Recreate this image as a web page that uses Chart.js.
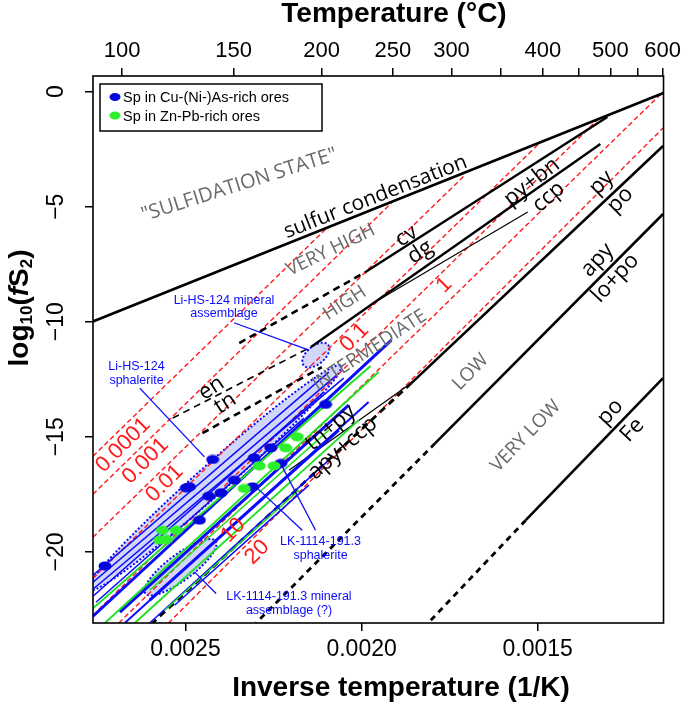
<!DOCTYPE html>
<html>
<head>
<meta charset="utf-8">
<script src="https://cdn.jsdelivr.net/npm/chart.js@4.4.1/dist/chart.umd.min.js"></script>
<style>
html, body { margin: 0; padding: 0; background: #fff; }
#c { display: block; }
</style>
</head>
<body>
<canvas id="c" width="685" height="702"></canvas>
<script>
// axis ranges: x = inverse temperature (1/K, reversed), y = log10(fS2)
const xMin = 0.0011427, xMax = 0.0027627;
const yMin = -23.09, yMax = 0.68;
const invTicks = [0.0025, 0.0020, 0.0015];
const yTicks = [0, -5, -10, -15, -20];
const tempTicks = [100, 150, 200, 250, 300, 350, 400, 450, 500, 550, 600];
const tempLabelled = [100, 150, 200, 250, 300, 400, 500, 600];

// black phase boundaries [1/T, log fS2]
const sulfurCond = [[0.002763, -9.99], [0.001143, -0.06]];
const cvDgDash = [[0.0023474, -10.926], [0.0019887, -7.839]];
const cvDg = [[0.0019887, -7.839], [0.0013022, -1.100]];
const pyBnDash = [[0.0025367, -14.187], [0.0021440, -11.100]];
const pyBn = [[0.0021440, -11.100], [0.0013220, -2.274]];
const ccpThin = [[0.0019519, -9.056], [0.0015282, -5.230]];
const tnDash = [[0.0024520, -14.839], [0.0021130, -11.970]];
const pyPo = [[0.001144, -2.361], [0.0018587, -12.665]];
const pyPoDash = [[0.0018587, -12.665], [0.0025932, -23.087]];
const tnPyThin = [[0.0022062, -16.448], [0.0018587, -12.665]];
const loPo = [[0.001144, -5.317], [0.0017909, -15.274]];
const loPoDash = [[0.0017909, -15.274], [0.0022994, -23.087]];
const poFe = [[0.001144, -12.448], [0.0015339, -18.622]];
const poFeDash = [[0.0015339, -18.622], [0.0018107, -23.087]];

// FeS isopleths (mol%) in sphalerite, red dashed
const fesNames = ['0.0001', '0.001', '0.01', '0.1', '1', '10', '20'];
const fesLines = [
  [[0.0027627, -15.839], [0.0020988, -5.926]],
  [[0.0027627, -17.491], [0.0019152, -4.839]],
  [[0.0027627, -19.361], [0.0017062, -3.622]],
  [[0.0027627, -21.143], [0.0014943, -2.230]],
  [[0.0027627, -22.752], [0.0013305, -1.230]],
  [[0.0026892, -23.087], [0.0011500, -0.100]],
  [[0.0025480, -23.087], [0.0011440, -1.578]]
];

// sphalerite ranges: [1/T start, logfS2 start, 1/T end, logfS2 end]
const blueSegs = [
  [0.0027627, -21.013, 0.0020932, -12.187],
  [0.0027627, -21.317, 0.0020706, -12.317],
  [0.0027627, -21.622, 0.0020508, -12.448],
  [0.0027627, -21.926, 0.0021073, -13.057],
  [0.0027542, -22.187, 0.0021638, -14.187],
  [0.0027627, -22.796, 0.0019152, -10.796],
  [0.0026864, -22.622, 0.0020367, -13.622],
  [0.0026017, -22.100, 0.0020649, -14.709],
  [0.0026723, -23.087, 0.0019802, -13.491],
  [0.0026017, -23.087, 0.0020932, -16.013],
  [0.0025311, -22.317, 0.0021497, -17.100]
];
const blueWidths = [1.5, 1.5, 1.5, 1.5, 1.5, 3, 3, 3, 2, 1.5, 1.5];
const greenSegs = [
  [0.0027627, -22.448, 0.0019746, -11.926],
  [0.0027288, -23.087, 0.0019519, -12.187],
  [0.0026017, -21.665, 0.0020932, -14.709],
  [0.0026441, -23.087, 0.0020084, -14.274],
  [0.0025593, -22.535, 0.0021779, -17.317]
];
const greenWidths = [2, 2, 1.5, 2, 1.5];

// sphalerite estimates (dots)
const blueDots = [
  [0.0021025, -13.591], [0.0022579, -15.478], [0.0023051, -15.913], [0.0022296, -16.157],
  [0.0024229, -15.983], [0.0024980, -17.217], [0.0024887, -17.174], [0.0023616, -16.883],
  [0.0023991, -17.435], [0.0024342, -17.578], [0.0023099, -17.174], [0.0024604, -18.622],
  [0.0027288, -20.609]
];
const greenDots = [
  [0.0021827, -15.000], [0.0022155, -15.478], [0.0022909, -16.261], [0.0022486, -16.261],
  [0.0023333, -17.243], [0.0025658, -19.057], [0.0025262, -19.057], [0.0025734, -19.491],
  [0.0025545, -19.461]
];

// shaded fields: centre, half major axis, half minor axis (data units)
const ellLiMineral = [[0.0021299, -11.448], [-3.47e-5, 0.448], [-1.64e-5, -0.300]];
const ellLiSph = [[0.0024180, -16.796], [-3.597e-4, 4.896], [-2.808e-5, -0.488]];
const ellLkMineral = [[0.0025141, -20.665], [-1.0e-4, 1.139], [-2.18e-5, -0.454]];

// callout leaders
const leaders = [
  [[0.0023624, -10.043], [0.0021497, -11.230]],
  [[0.0026299, -12.883], [0.0024463, -15.870]],
  [[0.0021308, -19.057], [0.0022251, -16.304]],
  [[0.0021686, -19.057], [0.0023002, -17.174]],
  [[0.0024132, -21.809], [0.0024745, -20.870]]
];

// text annotations: [text, 1/T, logfS2, angle, size]
const grayText = [
  ['"SULFIDATION STATE"', 0.0023474, -4.056, 17.6, 20],
  ['VERY HIGH', 0.0020875, -6.883, 26, 19],
  ['HIGH', 0.0020480, -9.187, 33, 19],
  ['INTERMEDIATE', 0.0019773, -11.230, 33, 19],
  ['LOW', 0.0016906, -12.187, 46, 19],
  ['VERY LOW', 0.0015339, -14.970, 46, 19]
];
const blackText = [
  ['sulfur condensation', 0.0019604, -4.578, 21.5, 21],
  ['cv', 0.0018728, -6.274, 33, 22], ['dg', 0.0018333, -6.970, 33, 22],
  ['py+bn', 0.0015169, -3.926, 38, 22], ['ccp', 0.0014689, -4.578, 40, 22],
  ['py', 0.0013192, -3.970, 45, 22], ['po', 0.0012655, -4.709, 45, 22],
  ['apy', 0.0013305, -7.317, 47, 22], ['lo+po', 0.0012796, -8.100, 47, 22],
  ['po', 0.0012937, -13.926, 47, 22], ['Fe', 0.0012316, -14.709, 47, 22],
  ['en', 0.0024265, -12.883, 33, 22], ['tn', 0.0023870, -13.535, 33, 22],
  ['tn+py', 0.0020884, -14.600, 40, 22], ['apy+ccp', 0.0020536, -15.491, 41, 22]
];
const redText = [
  [0.0026771, -15.361], [0.0026135, -16.048], [0.0025593, -17.027], [0.0020203, -10.687],
  [0.0017655, -8.404], [0.0023644, -19.057], [0.0022966, -20.013]
];
const blueText = [
  ['Li-HS-124 mineral', 0.0023907, -9.087], ['assemblage', 0.0023907, -9.635],
  ['Li-HS-124', 0.0026392, -11.957], ['sphalerite', 0.0026392, -12.535],
  ['LK-1114-191.3', 0.0021166, -19.565], ['sphalerite', 0.0021166, -20.143],
  ['LK-1114-191.3 mineral', 0.0022062, -21.957], ['assemblage (?)', 0.0022062, -22.565]
];

const AX_FONT = '"Liberation Sans", Arial, sans-serif';
const LBL_FONT = '"Open Sans", "Noto Sans", sans-serif';
const BLUE = '#0a0aff', GREEN = '#22e022', RED = '#ff1a1a';

function pts(a) { return a.map(p => ({ x: p[0], y: p[1] })); }
function line(a, color, width, dash, order) {
  return { type: 'line', data: pts(a), borderColor: color, borderWidth: width,
    borderDash: dash || [], pointRadius: 0, fill: false, tension: 0, order: order };
}
function dotImage(color) {
  const c = document.createElement('canvas');
  c.width = 14; c.height = 10;
  const g = c.getContext('2d');
  g.fillStyle = color;
  g.beginPath(); g.ellipse(7, 5, 6.5, 4.6, 0, 0, Math.PI * 2); g.fill();
  return c;
}

const datasets = [];
datasets.push(line(sulfurCond, '#000', 2.6, null, 3));
datasets.push(line(cvDgDash, '#000', 2.6, [7, 5], 3));
datasets.push(line(cvDg, '#000', 2.4, null, 3));
datasets.push(line(pyBnDash, '#000', 1.6, [7, 5], 3));
datasets.push(line(pyBn, '#000', 2.4, null, 3));
datasets.push(line(ccpThin, '#000', 1.2, null, 3));
datasets.push(line(tnDash, '#000', 2.6, [7, 5], 3));
datasets.push(line(pyPo, '#000', 2.6, null, 3));
datasets.push(line(pyPoDash, '#000', 2.8, [7, 5], 3));
datasets.push(line(tnPyThin, '#000', 1.2, null, 3));
datasets.push(line(loPo, '#000', 2.6, null, 3));
datasets.push(line(loPoDash, '#000', 2.8, [6, 5], 3));
datasets.push(line(poFe, '#000', 2.6, null, 3));
datasets.push(line(poFeDash, '#000', 2.8, [6, 5], 3));
fesLines.forEach(l => datasets.push(line(l, RED, 1.4, [5, 3], 4)));
greenSegs.forEach((s, i) => datasets.push(line([[s[0], s[1]], [s[2], s[3]]], GREEN, greenWidths[i], null, 2)));
blueSegs.forEach((s, i) => datasets.push(line([[s[0], s[1]], [s[2], s[3]]], BLUE, blueWidths[i], null, 2)));
leaders.forEach(l => datasets.push(line(l, BLUE, 1.3, null, 1)));
datasets.push({ type: 'scatter', data: pts(greenDots), pointStyle: dotImage('#2cf02c'), pointRadius: 6, order: 0 });
datasets.push({ type: 'scatter', data: pts(blueDots), pointStyle: dotImage('#0505dd'), pointRadius: 6, order: 0 });

function drawEllipse(g, xs, ys, e) {
  g.beginPath();
  for (let i = 0; i <= 72; i++) {
    const t = i / 72 * Math.PI * 2;
    const v = e[0][0] + Math.cos(t) * e[1][0] + Math.sin(t) * e[2][0];
    const L = e[0][1] + Math.cos(t) * e[1][1] + Math.sin(t) * e[2][1];
    const px = xs.getPixelForValue(v), py = ys.getPixelForValue(L);
    if (i === 0) g.moveTo(px, py); else g.lineTo(px, py);
  }
  g.closePath();
  g.fillStyle = 'rgba(150,160,235,0.42)';
  g.fill();
  g.setLineDash([2, 2]);
  g.lineWidth = 2;
  g.strokeStyle = BLUE;
  g.stroke();
  g.setLineDash([]);
}

function rotText(g, txt, x, y, ang, font, color) {
  g.save();
  g.translate(x, y);
  g.rotate(-ang * Math.PI / 180);
  g.font = font;
  g.fillStyle = color;
  g.textAlign = 'center';
  g.textBaseline = 'middle';
  g.fillText(txt, 0, 0);
  g.restore();
}

const overlay = {
  id: 'overlay',
  beforeDatasetsDraw(chart) {
    const g = chart.ctx, a = chart.chartArea, xs = chart.scales.x, ys = chart.scales.y;
    g.save();
    g.beginPath(); g.rect(a.left, a.top, a.right - a.left, a.bottom - a.top); g.clip();
    [ellLiSph, ellLkMineral, ellLiMineral].forEach(e => drawEllipse(g, xs, ys, e));
    g.restore();
  },
  afterDatasetsDraw(chart) {
    const g = chart.ctx, a = chart.chartArea, xs = chart.scales.x, ys = chart.scales.y;
    const P = (v, L) => [xs.getPixelForValue(v), ys.getPixelForValue(L)];
    grayText.forEach(t => { const p = P(t[1], t[2]); rotText(g, t[0], p[0], p[1], t[3], t[4] + 'px ' + LBL_FONT, '#6a6a6a'); });
    blackText.forEach(t => { const p = P(t[1], t[2]); rotText(g, t[0], p[0], p[1], t[3], t[4] + 'px ' + LBL_FONT, '#000'); });
    redText.forEach((t, i) => { const p = P(t[0], t[1]); rotText(g, fesNames[i], p[0], p[1], 45, '22px ' + AX_FONT, RED); });
    blueText.forEach(t => { const p = P(t[1], t[2]); rotText(g, t[0], p[0], p[1], 0, '12.5px ' + AX_FONT, BLUE); });
    // legend
    const lx = a.left + 7, ly = a.top + 8;
    g.save();
    g.fillStyle = '#fff'; g.fillRect(lx, ly, 222, 47);
    g.strokeStyle = '#000'; g.lineWidth = 1.5; g.strokeRect(lx, ly, 222, 47);
    [[BLUE, 'Sp in Cu-(Ni-)As-rich ores', '#0505dd'], [GREEN, 'Sp in Zn-Pb-rich ores', '#2cf02c']].forEach((e, i) => {
      const yy = ly + 13 + i * 18.5;
      g.fillStyle = e[2];
      g.beginPath(); g.ellipse(lx + 15, yy, 5.5, 4, 0, 0, Math.PI * 2); g.fill();
      g.fillStyle = '#000'; g.font = '14.5px ' + AX_FONT;
      g.textAlign = 'left'; g.textBaseline = 'middle';
      g.fillText(e[1], lx + 23, yy + 1);
    });
    g.restore();
  },
  afterDraw(chart) {
    const g = chart.ctx, a = chart.chartArea, ys = chart.scales.y;
    g.save();
    g.strokeStyle = '#000'; g.lineWidth = 1.6;
    g.strokeRect(a.left, a.top, a.right - a.left, a.bottom - a.top);
    yTicks.forEach(v => {
      rotText(g, v === 0 ? '0' : '\u2212' + Math.abs(v), 57, ys.getPixelForValue(v), 90, '23px ' + AX_FONT, '#000');
    });
    // axis titles
    g.fillStyle = '#000'; g.textAlign = 'center'; g.textBaseline = 'middle';
    g.font = 'bold 28px ' + AX_FONT;
    g.fillText('Temperature (\u00b0C)', 394, 14);
    g.fillText('Inverse temperature (1/K)', 401, 688);
    // y title with subscripts
    g.translate(20, 308);
    g.rotate(-Math.PI / 2);
    const parts = [['log', 'bold 28px', 0], ['10', 'bold 17px', 7], ['(', 'bold 28px', 0],
      ['f', 'italic bold 28px', 0], ['S', 'bold 28px', 0], ['2', 'bold 17px', 7], [')', 'bold 28px', 0]];
    let w = 0;
    parts.forEach(p => { g.font = p[1] + ' ' + AX_FONT; w += g.measureText(p[0]).width; });
    let cx = -w / 2;
    g.textAlign = 'left';
    parts.forEach(p => { g.font = p[1] + ' ' + AX_FONT; g.fillText(p[0], cx, p[2]); cx += g.measureText(p[0]).width; });
    g.restore();
  }
};

const gridOpts = { drawOnChartArea: false, drawTicks: true, tickLength: 8, color: '#000', lineWidth: 1.5 };

new Chart(document.getElementById('c').getContext('2d'), {
  type: 'scatter',
  data: { datasets: datasets },
  options: {
    responsive: false,
    animation: false,
    devicePixelRatio: 1,
    layout: { padding: { left: 0, right: 18, top: 0, bottom: 0 } },
    plugins: { legend: { display: false }, tooltip: { enabled: false } },
    scales: {
      x: {
        type: 'linear', position: 'bottom', reverse: true, min: xMin, max: xMax,
        afterBuildTicks: s => { s.ticks = invTicks.map(v => ({ value: v })); },
        afterFit: s => { s.height = 79; },
        ticks: { callback: v => v.toFixed(4), font: { family: AX_FONT, size: 23 }, color: '#000',
          padding: 5, maxRotation: 0, autoSkip: false },
        grid: gridOpts, border: { display: false }
      },
      xt: {
        type: 'linear', position: 'top', reverse: true, min: xMin, max: xMax,
        afterBuildTicks: s => { s.ticks = tempTicks.map(t => ({ value: 1 / (t + 273.15) })); },
        afterFit: s => { s.height = 76; },
        ticks: {
          callback: v => { const t = Math.round(1 / v - 273.15); return tempLabelled.includes(t) ? String(t) : ''; },
          font: { family: AX_FONT, size: 22 }, color: '#000', padding: 4, maxRotation: 0, autoSkip: false
        },
        grid: gridOpts, border: { display: false }
      },
      y: {
        type: 'linear', min: yMin, max: yMax,
        afterBuildTicks: s => { s.ticks = yTicks.map(v => ({ value: v })); },
        afterFit: s => { s.width = 93; },
        ticks: { color: 'rgba(0,0,0,0)', font: { family: AX_FONT, size: 22 }, autoSkip: false },
        grid: gridOpts, border: { display: false }
      }
    }
  },
  plugins: [overlay]
});
</script>
</body>
</html>
